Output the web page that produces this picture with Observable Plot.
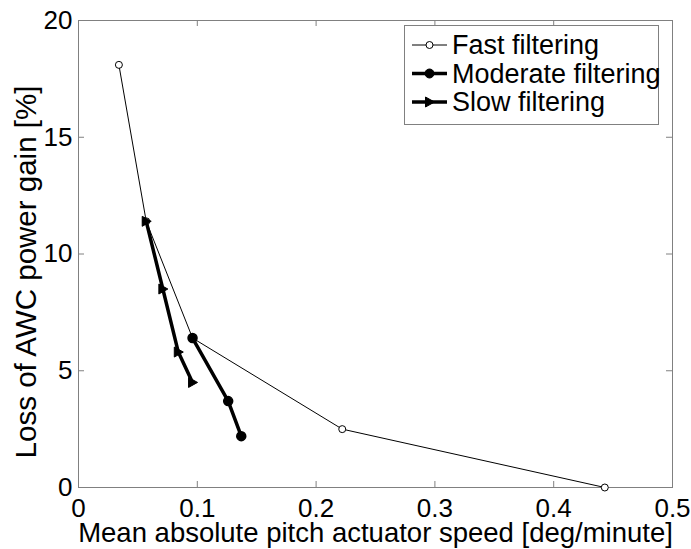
<!DOCTYPE html>
<html><head><meta charset="utf-8">
<script src="https://cdn.jsdelivr.net/npm/d3@7"></script>
<script src="https://cdn.jsdelivr.net/npm/@observablehq/plot@0.6"></script>
<style>
body{margin:0;background:#fff;}
#wrap{position:relative;width:691px;height:549px;font-family:"Liberation Sans",Arial,Helvetica,sans-serif;}
#legend{position:absolute;left:404px;top:25px;}
</style></head><body><div id="wrap"></div>
<script>
const xTicks = [0, 0.1, 0.2, 0.3, 0.4, 0.5];
const yTicks = [0, 5, 10, 15, 20];
const seriesNames = ["Fast filtering", "Moderate filtering", "Slow filtering"];
const fastX = [0.034, 0.057, 0.096, 0.222, 0.443];
const fastY = [18.1, 11.4, 6.4, 2.5, 0];
const modX = [0.096, 0.126, 0.137];
const modY = [6.4, 3.7, 2.2];
const slowX = [0.057, 0.071, 0.084, 0.096];
const slowY = [11.4, 8.5, 5.8, 4.5];
const xLabel = "Mean absolute pitch actuator speed [deg/minute]";
const yLabel = "Loss of AWC power gain [%]";

const toRows = (xs, ys) => xs.map((x, i) => ({x, y: ys[i]}));
const fast = toRows(fastX, fastY);
const mod = toRows(modX, modY);
const slow = toRows(slowX, slowY);

const triRight = {
  draw(ctx, size) {
    const r = Math.sqrt(size / Math.PI);
    ctx.moveTo(r, 0);
    ctx.lineTo(-r * 0.8, -r);
    ctx.lineTo(-r * 0.8, r);
    ctx.closePath();
  }
};

const innerTicksX = xTicks.slice(1, -1);
const innerTicksY = yTicks.slice(1, -1);
const W = 691, H = 549, mL = 78, mR = 19, mT = 20, mB = 62;
const fw = W - mL - mR, fh = H - mT - mB, tl = 6;

const chart = Plot.plot({
  width: W, height: H,
  marginLeft: mL, marginRight: mR, marginTop: mT, marginBottom: mB,
  x: {domain: [0, 0.5]},
  y: {domain: [0, 20]},
  style: {fontFamily: "'Liberation Sans', Arial, Helvetica, sans-serif", color: "black", background: "white", overflow: "visible"},
  marks: [
    Plot.tickX(innerTicksX, {x: d => d, stroke: "#808080", insetTop: fh - tl}),
    Plot.tickX(innerTicksX, {x: d => d, stroke: "#808080", insetBottom: fh - tl}),
    Plot.tickY(innerTicksY, {y: d => d, stroke: "#808080", insetRight: fw - tl}),
    Plot.tickY(innerTicksY, {y: d => d, stroke: "#808080", insetLeft: fw - tl}),
    Plot.frame({stroke: "#808080"}),
    Plot.axisX(xTicks, {tickSize: 0, tickPadding: 11, fontSize: 26, label: null, tickFormat: d => String(d)}),
    Plot.axisY(yTicks, {tickSize: 0, tickPadding: 6, fontSize: 26, label: null, tickFormat: d => String(d)}),
    Plot.text([xLabel], {text: d => d, frameAnchor: "bottom", lineAnchor: "middle", textAnchor: "middle", dy: 46, fontSize: 27.5, fill: "black"}),
    Plot.text([yLabel], {text: d => d, frameAnchor: "left", lineAnchor: "middle", textAnchor: "middle", dx: -52, dy: 18, rotate: -90, fontSize: 29.5, fill: "black"}),
    Plot.line(fast, {x: "x", y: "y", stroke: "black", strokeWidth: 1}),
    Plot.dot(fast, {x: "x", y: "y", r: 3.5, stroke: "black", fill: "white", strokeWidth: 1}),
    Plot.line(mod, {x: "x", y: "y", stroke: "black", strokeWidth: 3.5}),
    Plot.dot(mod, {x: "x", y: "y", r: 4.5, stroke: "black", fill: "black", strokeWidth: 1.5}),
    Plot.line(slow, {x: "x", y: "y", stroke: "black", strokeWidth: 3.5}),
    Plot.dot(slow, {x: "x", y: "y", r: 5, symbol: triRight, stroke: "black", fill: "black", strokeWidth: 1})
  ]
});
const wrap = document.getElementById("wrap");
wrap.appendChild(chart);

// Legend
const lg = d3.create("svg").attr("id", "legend").attr("width", 256).attr("height", 101)
  .style("font-family", "'Liberation Sans', Arial, Helvetica, sans-serif");
lg.append("rect").attr("x", 0.5).attr("y", 0.5).attr("width", 254).attr("height", 99)
  .attr("fill", "white").attr("stroke", "#808080");
const rowsY = [20, 48.5, 77];
const styles = [
  {sw: 1, marker: "circle", r: 3.5, fill: "white"},
  {sw: 3.5, marker: "circle", r: 4.5, fill: "black"},
  {sw: 3.5, marker: "tri", r: 5, fill: "black"}
];
seriesNames.forEach((name, i) => {
  const g = lg.append("g").attr("transform", `translate(0,${rowsY[i]})`);
  const s = styles[i];
  g.append("line").attr("x1", 8).attr("x2", 43).attr("y1", 0).attr("y2", 0)
    .attr("stroke", "black").attr("stroke-width", s.sw);
  if (s.marker === "circle") {
    g.append("circle").attr("cx", 25.5).attr("cy", 0).attr("r", s.r)
      .attr("fill", s.fill).attr("stroke", "black").attr("stroke-width", 1);
  } else {
    g.append("path").attr("transform", "translate(25.5,0)")
      .attr("d", d3.symbol(triRight, Math.PI * s.r * s.r)())
      .attr("fill", "black").attr("stroke", "black");
  }
  g.append("text").attr("x", 48).attr("y", 0).attr("dy", "0.35em")
    .attr("font-size", 27).attr("fill", "black").text(name);
});
wrap.appendChild(lg.node());
</script>
</body></html>
